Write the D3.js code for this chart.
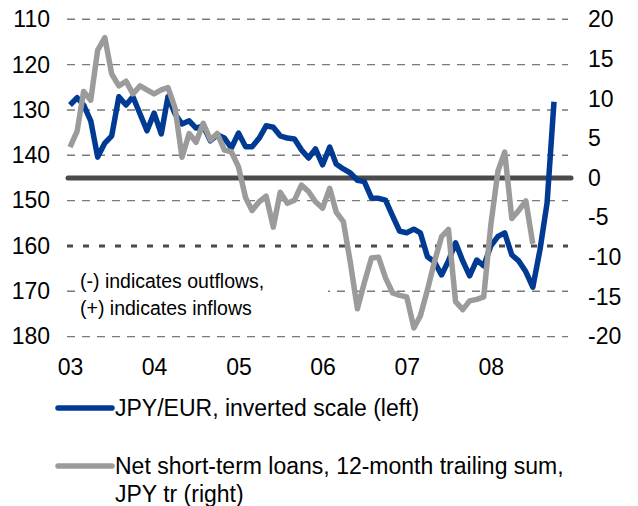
<!DOCTYPE html>
<html>
<head>
<meta charset="utf-8">
<script src="https://cdn.jsdelivr.net/npm/d3@7"></script>
<style>
  body { margin: 0; background: #fff; }
  svg text { font-family: "Liberation Sans", Arial, sans-serif; fill: #000; }
</style>
</head>
<body>
<div id="chart"></div>
<script>
// JPY/EUR monthly, Jan 2003 - Oct 2008 (left axis, inverted)
var jpyEur = [128.9,127.3,128.9,132.4,140.4,137.3,135.7,127.1,128.9,127.1,130.9,134.6,
  130.7,135.3,127.1,130.9,133.1,132.4,134.0,133.5,136.8,135.5,136.2,138.4,
  135.1,138.1,138.1,136.2,133.5,133.8,135.7,136.2,136.4,138.8,140.6,138.6,
  142.1,138.2,141.9,143.0,143.9,145.5,145.8,149.4,149.5,149.9,153.4,156.7,
  157.1,156.3,157.1,162.4,163.5,166.4,163.3,159.3,163.3,166.6,163.1,164.4,
  160.0,157.9,157.1,162.0,163.3,165.7,169.1,160.9,150.5,128.2];

// Net short-term loans, 12m trailing sum, JPY tr, Jan 2003 - Jul 2008 (right axis)
var loans = [3.9,5.9,10.9,9.8,16.1,17.7,13.1,11.6,12.2,10.6,11.6,11.1,
  10.6,11.1,11.4,8.8,2.6,5.6,4.5,6.9,4.8,5.6,3.5,3.3,
  1.4,-2.5,-4.1,-3.0,-2.3,-6.2,-1.8,-3.2,-2.8,-0.9,-1.7,-3.0,
  -3.8,-1.3,-4.3,-5.5,-10.6,-16.5,-13.2,-10.1,-10.0,-12.6,-14.5,-14.8,
  -15.0,-18.9,-17.4,-14.1,-10.6,-7.4,-6.5,-15.6,-16.6,-15.5,-15.3,-15.0,
  -5.9,0.9,3.25,-5.1,-4.1,-2.9,-8.3];

var leftTicks = [110,120,130,140,150,160,170,180];
var rightTicks = [20,15,10,5,0,-5,-10,-15,-20];
var yearTicks = [2003,2004,2005,2006,2007,2008];
var legendLabels = ["JPY/EUR, inverted scale (left)",
  ["Net short-term loans, 12-month trailing sum,", "JPY tr (right)"]];
var noteLines = ["(-) indicates outflows,", "(+) indicates inflows"];

var W = 638, H = 506;
var blue = "#003a93", grey = "#9b9b9b", dark = "#4a4a4a";

var svg = d3.select("#chart").append("svg")
  .attr("width", W).attr("height", H);

var month = function(i) { return new Date(2003, i, 1); };

var x = d3.scaleTime()
  .domain([month(0), month(69)])
  .range([70, 554]);
var yL = d3.scaleLinear().domain([110, 180]).range([19.3, 336.6]);
var yR = d3.scaleLinear().domain([20, -20]).range([19.3, 336.6]);

var gx0 = 67, gx1 = 568;

// grey dashed gridlines
svg.append("g").selectAll("line")
  .data(leftTicks.filter(function(d) { return d != 160; }))
  .enter().append("line")
  .attr("x1", gx0).attr("x2", gx1)
  .attr("y1", function(d) { return yL(d); })
  .attr("y2", function(d) { return yL(d); })
  .attr("stroke", "#7a7a7a")
  .attr("stroke-width", 1.4)
  .attr("stroke-dasharray", "8,7");

// heavier dotted line at 160
svg.append("line")
  .attr("x1", gx0).attr("x2", gx1)
  .attr("y1", yL(160)).attr("y2", yL(160))
  .attr("stroke", dark)
  .attr("stroke-width", 3)
  .attr("stroke-dasharray", "6,10");

// zero line (right axis)
svg.append("line")
  .attr("x1", 68).attr("x2", 571)
  .attr("y1", yR(0)).attr("y2", yR(0))
  .attr("stroke", dark)
  .attr("stroke-width", 5)
  .attr("stroke-linecap", "round");

// note box
svg.append("rect")
  .attr("x", 76).attr("y", 262).attr("width", 252).attr("height", 60)
  .attr("fill", "#fff");
svg.append("g").selectAll("text")
  .data(noteLines)
  .enter().append("text")
  .attr("x", 80)
  .attr("y", function(d, i) { return 288 + i * 26.5; })
  .attr("font-size", 19.5)
  .text(function(d) { return d; });

// axes
var axL = svg.append("g")
  .attr("transform", "translate(50,0)")
  .call(d3.axisLeft(yL).tickValues(leftTicks).tickSize(0).tickPadding(0)
    .tickFormat(function(d) { return String(d); }));
var axR = svg.append("g")
  .attr("transform", "translate(588,0)")
  .call(d3.axisRight(yR).tickValues(rightTicks).tickSize(0).tickPadding(0)
    .tickFormat(function(d) { return String(d); }));
var axX = svg.append("g")
  .attr("transform", "translate(0,359)")
  .call(d3.axisBottom(x)
    .tickValues(yearTicks.map(function(y) { return new Date(y, 0, 1); }))
    .tickSize(0).tickPadding(0)
    .tickFormat(d3.timeFormat("%y")));

[axL, axR, axX].forEach(function(a) {
  a.select(".domain").remove();
  a.selectAll("text")
    .attr("font-size", 23)
    .attr("fill", "#000")
    .style("font-family", "'Liberation Sans', Arial, sans-serif");
});

// series
var lineL = d3.line()
  .x(function(d, i) { return x(month(i)); })
  .y(function(d) { return yL(d); });
var lineR = d3.line()
  .x(function(d, i) { return x(month(i)); })
  .y(function(d) { return yR(d); });

svg.append("path")
  .datum(jpyEur)
  .attr("d", lineL)
  .attr("fill", "none")
  .attr("stroke", blue)
  .attr("stroke-width", 5.5)
  .attr("stroke-linejoin", "round");

svg.append("path")
  .datum(loans)
  .attr("d", lineR)
  .attr("fill", "none")
  .attr("stroke", grey)
  .attr("stroke-width", 5.5)
  .attr("stroke-linejoin", "round");

// legend
var leg = svg.append("g");
var legY = [408, 466];
[blue, grey].forEach(function(c, i) {
  leg.append("line")
    .attr("x1", 58).attr("x2", 112)
    .attr("y1", legY[i]).attr("y2", legY[i])
    .attr("stroke", c)
    .attr("stroke-width", 5.5)
    .attr("stroke-linecap", "round");
  var lines = [].concat(legendLabels[i]);
  lines.forEach(function(t, j) {
    leg.append("text")
      .attr("x", 115)
      .attr("y", legY[i] + j * 28)
      .attr("dy", "0.35em")
      .attr("font-size", 23)
      .text(t);
  });
});
</script>
</body>
</html>
